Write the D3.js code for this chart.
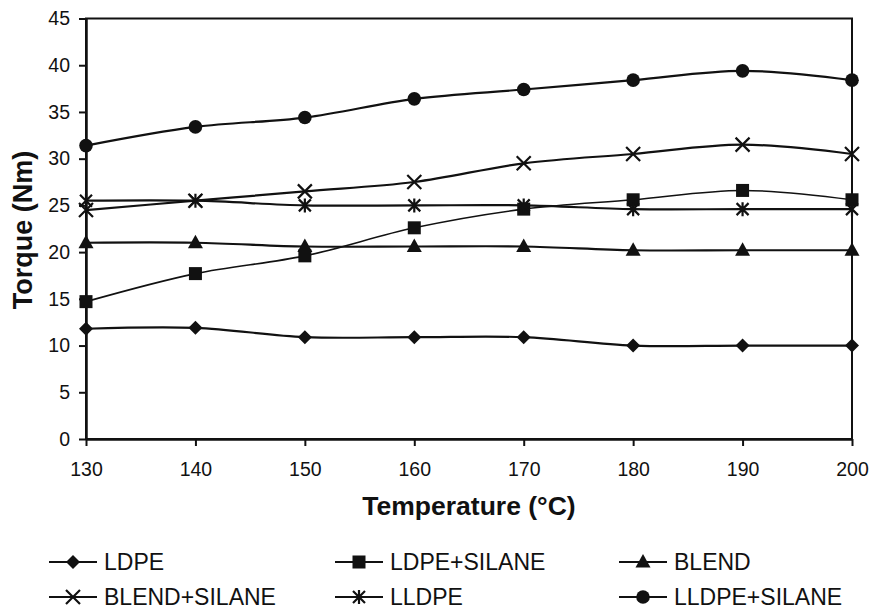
<!DOCTYPE html>
<html><head><meta charset="utf-8">
<script src="https://cdn.jsdelivr.net/npm/d3@7"></script>
<style>body{margin:0;background:#fff}svg{display:block}</style>
</head><body>
<svg id="c" width="872" height="610"></svg>
<script>
const temperatures = [130,140,150,160,170,180,190,200];
const yTicks = [0,5,10,15,20,25,30,35,40,45];
const ldpe        = [11.8,11.9,10.9,10.9,10.9,10.0,10.0,10.0];
const ldpeSilane  = [14.7,17.7,19.6,22.6,24.6,25.6,26.6,25.6];
const blend       = [21.0,21.0,20.6,20.6,20.6,20.2,20.2,20.2];
const blendSilane = [24.5,25.5,26.5,27.5,29.5,30.5,31.5,30.5];
const lldpe       = [25.5,25.5,25.0,25.0,25.0,24.6,24.6,24.6];
const lldpeSilane = [31.4,33.4,34.4,36.4,37.4,38.4,39.4,38.4];
const seriesNames = ["LDPE","LDPE+SILANE","BLEND","BLEND+SILANE","LLDPE","LLDPE+SILANE"];
const seriesMarkers = ["diamond","square","triangle","x","asterisk","circle"];
const seriesValues = [ldpe, ldpeSilane, blend, blendSilane, lldpe, lldpeSilane];

const svg = d3.select("#c");
const m = {l:86, r:852, t:18.5, b:439};
const x = d3.scaleLinear().domain([130,200]).range([m.l, m.r]);
const y = d3.scaleLinear().domain([0,45]).range([m.b, m.t]);

// frame
svg.append("rect").attr("x",m.l).attr("y",m.t).attr("width",m.r-m.l).attr("height",m.b-m.t)
  .attr("fill","none").attr("stroke","#111").attr("stroke-width",2);

const font = "'Liberation Sans', Arial, sans-serif";
const ya = svg.append("g").attr("transform",`translate(${m.l},0)`)
  .call(d3.axisLeft(y).tickValues(yTicks).tickSize(7).tickPadding(9).tickSizeOuter(0));
const xa = svg.append("g").attr("transform",`translate(0,${m.b})`)
  .call(d3.axisBottom(x).tickValues(temperatures).tickSize(7).tickPadding(16).tickSizeOuter(0));
[ya,xa].forEach(a=>{
  a.select(".domain").attr("stroke","#111").attr("stroke-width",2.5);
  a.selectAll(".tick line").attr("stroke","#111").attr("stroke-width",2);
  a.selectAll(".tick text").attr("font-family",font).attr("font-size",19.5).attr("fill","#111");
});

svg.append("text").attr("x",(m.l+m.r)/2).attr("y",515).attr("text-anchor","middle")
  .attr("font-family",font).attr("font-weight","bold").attr("font-size",26.5).attr("fill","#111")
  .text("Temperature (°C)");
svg.append("text").attr("transform","translate(32,230) rotate(-90)").attr("text-anchor","middle")
  .attr("font-family",font).attr("font-weight","bold").attr("font-size",27).attr("fill","#111")
  .text("Torque (Nm)");

function drawMarker(g, type, cx, cy){
  const c = "#111";
  if(type==="diamond"){
    g.append("path").attr("d",`M${cx},${cy-7}L${cx+7},${cy}L${cx},${cy+7}L${cx-7},${cy}Z`).attr("fill",c);
  } else if(type==="square"){
    g.append("rect").attr("x",cx-6.5).attr("y",cy-6.5).attr("width",13).attr("height",13).attr("fill",c);
  } else if(type==="triangle"){
    g.append("path").attr("d",`M${cx},${cy-8}L${cx+7.5},${cy+5.5}L${cx-7.5},${cy+5.5}Z`).attr("fill",c);
  } else if(type==="circle"){
    g.append("circle").attr("cx",cx).attr("cy",cy).attr("r",6.8).attr("fill",c);
  } else if(type==="x"){
    g.append("path").attr("d",`M${cx-7},${cy-7}L${cx+7},${cy+7}M${cx-7},${cy+7}L${cx+7},${cy-7}`)
      .attr("stroke",c).attr("stroke-width",2.2).attr("fill","none");
  } else if(type==="asterisk"){
    g.append("path").attr("d",`M${cx-6},${cy-6}L${cx+6},${cy+6}M${cx-6},${cy+6}L${cx+6},${cy-6}M${cx},${cy-7}L${cx},${cy+7}`)
      .attr("stroke",c).attr("stroke-width",2.2).attr("fill","none");
  }
}

const line = d3.line().x((d,i)=>x(temperatures[i])).y(d=>y(d)).curve(d3.curveCatmullRom.alpha(0.5));
const plot = svg.append("g");
seriesValues.forEach((vals,si)=>{
  plot.append("path").datum(vals).attr("d",line).attr("fill","none")
    .attr("stroke","#111").attr("stroke-width", si===1 ? 1.6 : 2.2);
});
seriesValues.forEach((vals,si)=>{
  vals.forEach((v,i)=>drawMarker(plot, seriesMarkers[si], x(temperatures[i]), y(v)));
});

// legend
const legX = [49,335,619], legY = [562,597];
seriesNames.forEach((name,i)=>{
  const lx = legX[i%3], ly = legY[Math.floor(i/3)];
  const g = svg.append("g");
  g.append("line").attr("x1",lx).attr("x2",lx+48).attr("y1",ly).attr("y2",ly).attr("stroke","#111").attr("stroke-width",2.2);
  drawMarker(g, seriesMarkers[i], lx+24, ly);
  g.append("text").attr("x",lx+55).attr("y",ly+8).attr("font-family",font).attr("font-size",23)
    .attr("fill","#111").text(name);
});
</script>
</body></html>
